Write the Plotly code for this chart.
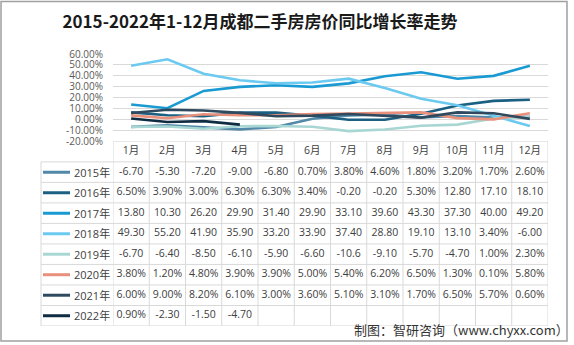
import plotly.graph_objects as go

# Year-on-year change of second-hand housing prices in Chengdu (%), Jan-Dec
months = ["1月", "2月", "3月", "4月", "5月", "6月", "7月", "8月", "9月", "10月", "11月", "12月"]
years = ["2015年", "2016年", "2017年", "2018年", "2019年", "2020年", "2021年", "2022年"]

y2015 = [-6.70, -5.30, -7.20, -9.00, -6.80, 0.70, 3.80, 4.60, 1.80, 3.20, 1.70, 2.60]
y2016 = [6.50, 3.90, 3.00, 6.30, 6.30, 3.40, -0.20, -0.20, 5.30, 12.80, 17.10, 18.10]
y2017 = [13.80, 10.30, 26.20, 29.90, 31.40, 29.90, 33.10, 39.60, 43.30, 37.30, 40.00, 49.20]
y2018 = [49.30, 55.20, 41.90, 35.90, 33.20, 33.90, 37.40, 28.80, 19.10, 13.10, 3.40, -6.00]
y2019 = [-6.70, -6.40, -8.50, -6.10, -5.90, -6.60, -10.60, -9.10, -5.70, -4.70, 1.00, 2.30]
y2020 = [3.80, 1.20, 4.80, 3.90, 3.90, 5.00, 5.40, 6.20, 6.50, 1.30, 0.10, 5.80]
y2021 = [6.00, 9.00, 8.20, 6.10, 3.00, 3.60, 5.10, 3.10, 1.70, 6.50, 5.70, 0.60]
y2022 = [0.90, -2.30, -1.50, -4.70]

series = [y2015, y2016, y2017, y2018, y2019, y2020, y2021, y2022]
colors = ["#5288A8", "#1B5F82", "#1A9AD2", "#6CC9F0", "#A8D6D3", "#E8907B", "#2F4A5E", "#0F2C43"]

y_ticks = [-20, -10, 0, 10, 20, 30, 40, 50, 60]

W, H = 574, 345
L, R, T, B = 113, 26, 54, 17
PW, PH = W - L - R, H - T - B
chart_bottom = (328 - 142) / PH  # paper fraction where the chart area ends


def px_x(px):
    return (px - L) / PW


def px_y(py):
    return (H - B - py) / PH


def cell_text(v):
    # spreadsheet-like narrow cell: show percent when it fits, else truncate
    s = f"{v:.2f}%"
    if len(s) > 5:
        s = f"{v:.2f}"[:5]
    return s


fig = go.Figure()

for name, vals, c in zip(years, series, colors):
    fig.add_trace(go.Scatter(
        x=list(range(len(vals))), y=vals, mode="lines", name=name,
        line=dict(color=c, width=2.6), xaxis="x", yaxis="y",
        showlegend=False, hoverinfo="skip",
    ))

# data table under the chart: header row 0, year rows 1..8
tx, ty, tt = [], [], []
for i, m in enumerate(months):
    tx.append(i); ty.append(0); tt.append(m)
for r, vals in enumerate(series, start=1):
    for i, v in enumerate(vals):
        tx.append(i); ty.append(r); tt.append(cell_text(v))

fig.add_trace(go.Scatter(
    x=tx, y=ty, text=tt, mode="text", xaxis="x", yaxis="y2",
    textfont=dict(family="Open Sans, Noto Sans CJK SC", size=10.5, color="#404040"),
    showlegend=False, hoverinfo="skip",
))

grid = "#D9D9D9"
shapes = []
# horizontal table rules
shapes.append(dict(type="line", xref="paper", yref="y2", x0=0, x1=1, y0=-0.5, y1=-0.5,
                   line=dict(color=grid, width=1)))
for k in range(9):
    shapes.append(dict(type="line", xref="paper", yref="y2", x0=px_x(41), x1=1,
                       y0=k + 0.5, y1=k + 0.5, line=dict(color=grid, width=1)))
# vertical table rules
for k in range(13):
    shapes.append(dict(type="line", xref="x", yref="y2", x0=k - 0.5, x1=k - 0.5,
                       y0=-0.5, y1=8.5, line=dict(color=grid, width=1)))
shapes.append(dict(type="line", xref="paper", yref="y2", x0=px_x(41), x1=px_x(41),
                   y0=0.5, y1=8.5, line=dict(color=grid, width=1)))
# legend keys
for r, c in enumerate(colors, start=1):
    shapes.append(dict(type="line", xref="paper", yref="y2", x0=px_x(43), x1=px_x(70),
                       y0=r, y1=r, line=dict(color=c, width=3)))
# outer frame
shapes.append(dict(type="rect", xref="paper", yref="paper", x0=px_x(1), x1=px_x(567),
                   y0=px_y(343), y1=px_y(1), line=dict(color="#A0A0A0", width=1.5)))

annotations = []
for r, name in enumerate(years, start=1):
    annotations.append(dict(xref="paper", yref="y2", x=px_x(72), y=r, text=name,
                            showarrow=False, xanchor="left", yanchor="middle",
                            font=dict(family="Open Sans, Noto Sans CJK SC", size=11, color="#404040")))
annotations.append(dict(xref="paper", yref="paper", x=px_x(571), y=px_y(332),
                        text="制图：智研咨询（www.chyxx.com）", showarrow=False,
                        xanchor="right", yanchor="middle",
                        font=dict(family="Noto Sans CJK SC", size=13, color="#333333")))

fig.update_layout(
    width=W, height=H,
    margin=dict(l=L, r=R, t=T, b=B),
    paper_bgcolor="white", plot_bgcolor="white",
    title=dict(text="<b>2015-2022年1-12月成都二手房房价同比增长率走势</b>",
               xref="container", yref="container", x=260 / W, y=1 - 22 / H,
               xanchor="center", yanchor="middle",
               font=dict(family="Noto Sans CJK SC", size=17, color="#1a1a1a")),
    xaxis=dict(range=[-0.5, 11.5], showgrid=False, zeroline=False, showline=False,
               showticklabels=False, ticks="", anchor="y2"),
    yaxis=dict(domain=[chart_bottom, 1], range=[-20, 60], tickvals=y_ticks,
               ticktext=[f"{v:.2f}%" for v in y_ticks], showgrid=True, gridcolor=grid,
               gridwidth=1, zeroline=False, showline=False, ticks="",
               ticklabelstandoff=9,
               tickfont=dict(family="Open Sans", size=10, color="#595959")),
    yaxis2=dict(domain=[0, chart_bottom], range=[8.5, -0.5], showgrid=False,
                zeroline=False, showline=False, showticklabels=False, ticks=""),
    shapes=shapes,
    annotations=annotations,
    showlegend=False,
)

fig.write_html("out.html")
